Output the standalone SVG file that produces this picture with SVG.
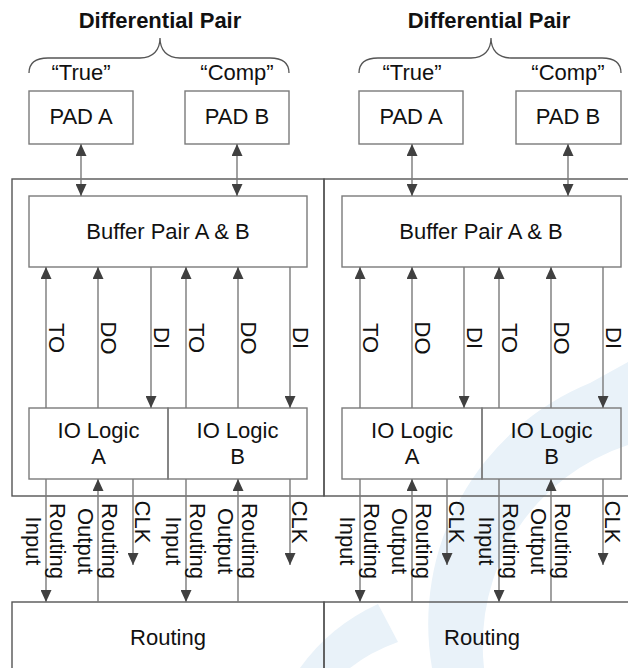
<svg xmlns="http://www.w3.org/2000/svg" width="628" height="668" viewBox="0 0 628 668">
<style>
.t{font-family:"Liberation Sans",Arial,sans-serif;font-size:22px;fill:#111;}
.tb{font-family:"Liberation Sans",Arial,sans-serif;font-size:22px;font-weight:bold;fill:#111;}
.box{fill:none;stroke:#7a7a7a;stroke-width:1.4;}
.outer{fill:none;stroke:#555;stroke-width:1.4;}
.brace{fill:none;stroke:#555;stroke-width:1.3;}
.w{fill:none;stroke:#7a7a7a;stroke-width:1.4;}
.a{marker-end:url(#ah);}
.aa{marker-start:url(#ah);marker-end:url(#ah);}
.wm{fill:#e9f2f9;stroke:none;}
</style>
<defs>
<marker id="ah" viewBox="0 0 12 11" refX="12" refY="5.5" markerWidth="12" markerHeight="11" markerUnits="userSpaceOnUse" orient="auto-start-reverse">
<path d="M0,0 L12,5.5 L0,11 Z" fill="#404040"/>
</marker>
</defs>
<g id="watermark">
<path class="wm" d="M590,383 L628,362 L628,445 A210,210 0 0 0 484,668 L432,668 A260,260 0 0 1 590,383 Z"/>
<path class="wm" d="M300,668 Q330,626 378,604 L398,642 Q370,652 350,668 Z"/>
</g>
<g id="left-half">
<g id="title-L"><text class="tb" x="160" y="28" text-anchor="middle">Differential Pair</text></g>
<g id="brace-L"><path class="brace" d="M29,73 C29,63 35,58 48,58 L140,58 C153,58 160,50 160,38 C160,50 167,58 180,58 L270,58 C283,58 289,63 289,73"/></g>
<g id="true-L"><text class="t" x="81" y="80" text-anchor="middle">“True”</text></g>
<g id="comp-L"><text class="t" x="237" y="80" text-anchor="middle">“Comp”</text></g>
<g id="padA-L"><rect class="box" x="29" y="91" width="104" height="53"/><text class="t" x="81" y="124" text-anchor="middle">PAD A</text></g>
<g id="padB-L"><rect class="box" x="185" y="91" width="104" height="53"/><text class="t" x="237" y="124" text-anchor="middle">PAD B</text></g>
<g id="outer-L"><rect class="outer" x="12" y="179" width="312" height="317"/></g>
<g id="buffer-L"><rect class="box" x="29" y="196" width="278" height="71"/><text class="t" x="168" y="239" text-anchor="middle">Buffer Pair A &amp; B</text></g>
<g id="ioA-L"><rect class="box" x="29" y="408" width="139" height="71"/><text class="t" x="98.5" y="438" text-anchor="middle">IO Logic</text><text class="t" x="98.5" y="463.5" text-anchor="middle">A</text></g>
<g id="ioB-L"><rect class="box" x="168" y="408" width="139" height="71"/><text class="t" x="237.5" y="438" text-anchor="middle">IO Logic</text><text class="t" x="237.5" y="463.5" text-anchor="middle">B</text></g>
<g id="routing-L"><rect class="outer" x="12" y="602" width="312" height="100"/><text class="t" x="168" y="645" text-anchor="middle">Routing</text></g>
</g>
<g id="right-half">
<g id="title-R"><text class="tb" x="489" y="28" text-anchor="middle">Differential Pair</text></g>
<g id="brace-R"><path class="brace" d="M359,73 C359,63 365,58 378,58 L471,58 C484,58 491,50 491,38 C491,50 498,58 511,58 L602,58 C615,58 621,63 621,73"/></g>
<g id="true-R"><text class="t" x="412" y="80" text-anchor="middle">“True”</text></g>
<g id="comp-R"><text class="t" x="568" y="80" text-anchor="middle">“Comp”</text></g>
<g id="padA-R"><rect class="box" x="359" y="91" width="104" height="53"/><text class="t" x="411" y="124" text-anchor="middle">PAD A</text></g>
<g id="padB-R"><rect class="box" x="516" y="91" width="105" height="53"/><text class="t" x="568" y="124" text-anchor="middle">PAD B</text></g>
<g id="outer-R"><rect class="outer" x="324" y="179" width="320" height="317"/></g>
<g id="buffer-R"><rect class="box" x="342" y="196" width="279" height="71"/><text class="t" x="481" y="239" text-anchor="middle">Buffer Pair A &amp; B</text></g>
<g id="ioA-R"><rect class="box" x="342" y="408" width="140" height="71"/><text class="t" x="412" y="438" text-anchor="middle">IO Logic</text><text class="t" x="412" y="463.5" text-anchor="middle">A</text></g>
<g id="ioB-R"><rect class="box" x="482" y="408" width="139" height="71"/><text class="t" x="551.5" y="438" text-anchor="middle">IO Logic</text><text class="t" x="551.5" y="463.5" text-anchor="middle">B</text></g>
<g id="routing-R"><rect class="outer" x="324" y="602" width="320" height="100"/><text class="t" x="482" y="645" text-anchor="middle">Routing</text></g>
</g>
<g id="connectors">
<line class="w aa" x1="81" y1="144" x2="81" y2="196"/>
<line class="w aa" x1="237" y1="144" x2="237" y2="196"/>
<line class="w aa" x1="412" y1="144" x2="412" y2="196"/>
<line class="w aa" x1="568" y1="144" x2="568" y2="196"/>
<line class="w a" x1="46" y1="408" x2="46" y2="267"/>
<line class="w a" x1="98" y1="408" x2="98" y2="267"/>
<line class="w a" x1="151" y1="267" x2="151" y2="408"/>
<line class="w a" x1="186" y1="408" x2="186" y2="267"/>
<line class="w a" x1="238" y1="408" x2="238" y2="267"/>
<line class="w a" x1="290" y1="267" x2="290" y2="408"/>
<line class="w a" x1="360" y1="408" x2="360" y2="267"/>
<line class="w a" x1="412" y1="408" x2="412" y2="267"/>
<line class="w a" x1="464" y1="267" x2="464" y2="408"/>
<line class="w a" x1="499" y1="408" x2="499" y2="267"/>
<line class="w a" x1="551" y1="408" x2="551" y2="267"/>
<line class="w a" x1="603" y1="267" x2="603" y2="408"/>
<line class="w a" x1="46" y1="479" x2="46" y2="602"/>
<line class="w a" x1="98" y1="602" x2="98" y2="479"/>
<line class="w a" x1="133" y1="479" x2="133" y2="565"/>
<line class="w a" x1="186" y1="479" x2="186" y2="602"/>
<line class="w a" x1="238" y1="602" x2="238" y2="479"/>
<line class="w a" x1="290" y1="479" x2="290" y2="565"/>
<line class="w a" x1="360" y1="479" x2="360" y2="602"/>
<line class="w a" x1="412" y1="602" x2="412" y2="479"/>
<line class="w a" x1="447" y1="479" x2="447" y2="565"/>
<line class="w a" x1="499" y1="479" x2="499" y2="602"/>
<line class="w a" x1="551" y1="602" x2="551" y2="479"/>
<line class="w a" x1="603" y1="479" x2="603" y2="565"/>
</g>
<g id="connector-labels" class="t" text-anchor="middle">
<text class="t" transform="matrix(0 1 -1 0 48.5 338)">TO</text>
<text class="t" transform="matrix(0 1 -1 0 100.5 338)">DO</text>
<text class="t" transform="matrix(0 1 -1 0 153.5 338)">DI</text>
<text class="t" transform="matrix(0 1 -1 0 188.5 338)">TO</text>
<text class="t" transform="matrix(0 1 -1 0 240.5 338)">DO</text>
<text class="t" transform="matrix(0 1 -1 0 292.5 338)">DI</text>
<text class="t" transform="matrix(0 1 -1 0 362.5 338)">TO</text>
<text class="t" transform="matrix(0 1 -1 0 414.5 338)">DO</text>
<text class="t" transform="matrix(0 1 -1 0 466.5 338)">DI</text>
<text class="t" transform="matrix(0 1 -1 0 501.5 338)">TO</text>
<text class="t" transform="matrix(0 1 -1 0 553.5 338)">DO</text>
<text class="t" transform="matrix(0 1 -1 0 605.5 338)">DI</text>
<text class="t" transform="matrix(0 1 -1 0 50 541)"><tspan x="0" y="24">Input</tspan><tspan x="0" y="0">Routing</tspan></text>
<text class="t" transform="matrix(0 1 -1 0 102 541)"><tspan x="0" y="24">Output</tspan><tspan x="0" y="0">Routing</tspan></text>
<text class="t" transform="matrix(0 1 -1 0 135 522)">CLK</text>
<text class="t" transform="matrix(0 1 -1 0 190 541)"><tspan x="0" y="24">Input</tspan><tspan x="0" y="0">Routing</tspan></text>
<text class="t" transform="matrix(0 1 -1 0 242 541)"><tspan x="0" y="24">Output</tspan><tspan x="0" y="0">Routing</tspan></text>
<text class="t" transform="matrix(0 1 -1 0 292 522)">CLK</text>
<text class="t" transform="matrix(0 1 -1 0 364 541)"><tspan x="0" y="24">Input</tspan><tspan x="0" y="0">Routing</tspan></text>
<text class="t" transform="matrix(0 1 -1 0 416 541)"><tspan x="0" y="24">Output</tspan><tspan x="0" y="0">Routing</tspan></text>
<text class="t" transform="matrix(0 1 -1 0 449 522)">CLK</text>
<text class="t" transform="matrix(0 1 -1 0 503 541)"><tspan x="0" y="24">Input</tspan><tspan x="0" y="0">Routing</tspan></text>
<text class="t" transform="matrix(0 1 -1 0 555 541)"><tspan x="0" y="24">Output</tspan><tspan x="0" y="0">Routing</tspan></text>
<text class="t" transform="matrix(0 1 -1 0 605 522)">CLK</text>
</g>
</svg>
